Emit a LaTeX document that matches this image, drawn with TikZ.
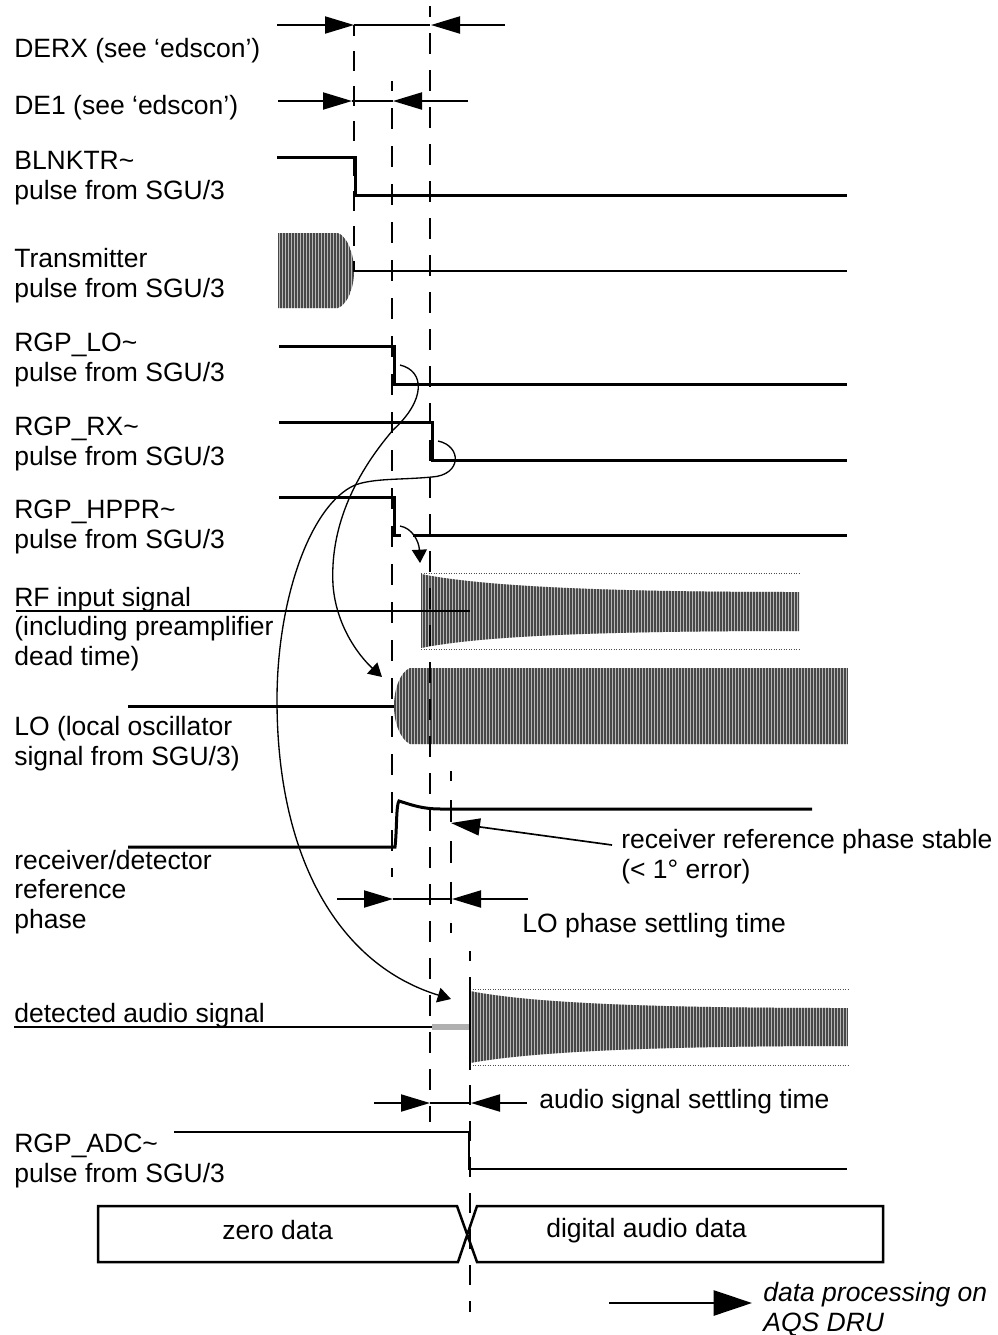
\documentclass[tikz,border=0pt]{standalone}
\usepackage{fontspec}
\setmainfont{Liberation Sans}
\usetikzlibrary{arrows.meta}
\definecolor{hatchdark}{HTML}{484848}
\definecolor{hatchlight}{HTML}{B8B8B8}
\definecolor{zerobar}{HTML}{B0B0B0}
\newcommand{\hatchblock}[4]{%
  \begin{scope}
    \clip #4;
    \fill[hatchlight] (#1,0) rectangle (#3,1335);
    \foreach \sx in {#1,#2,...,#3} \draw[hatchdark,line width=0.75pt] (\sx,0) -- (\sx,1335);
  \end{scope}}
\begin{document}
\begin{tikzpicture}[x=0.6pt,y=-0.6pt,
    lab/.style={anchor=base west,inner sep=0pt,font=\fontsize{15.9}{17.7}\selectfont,align=left},
    sigline/.style={line width=1.8pt,miter limit=10},
    thinline/.style={line width=1.3pt},
    dimline/.style={line width=1.2pt},
    dimarrow/.style={-{Triangle[length=17.4pt,width=10.2pt]},line width=1.2pt},
    bendarrow/.style={-{Triangle[length=8pt,width=9pt]},line width=0.8pt},
    guide/.style={line width=1.4pt},
    limit/.style={line width=0.5pt,densely dotted,black!70}]
  \useasboundingbox (0,0) rectangle (998,1335);
  % hatched blocks
  \hatchblock{278}{281}{356}{(278,233) -- (338,233) .. controls (348,237) and (354,255) .. (354,271) .. controls (354,287) and (348,304) .. (338,308) -- (278,308) -- cycle}
  \hatchblock{421}{424}{799}{(421,574) .. controls (480,586) and (600,592) .. (799,592) -- (799,631) .. controls (600,631) and (480,636) .. (421,648) -- cycle}
  \hatchblock{395}{398}{848}{(848,668) -- (410,668) .. controls (400,672) and (394,690) .. (394,706) .. controls (394,722) and (400,739) .. (410,744) -- (848,744) -- cycle}
  \hatchblock{470}{473}{848}{(470,991) .. controls (530,1003) and (650,1008) .. (848,1008) -- (848,1046) .. controls (650,1046) and (530,1052) .. (470,1063) -- cycle}
  \draw[limit] (421,573.5) -- (799,573.5);
  \draw[limit] (421,649) -- (799,649);
  \draw[limit] (470,989) -- (848,989);
  \draw[limit] (470,1065) -- (848,1065);
  % guide lines
  \draw[guide,dash pattern=on 12pt off 9pt,dash phase=5.4pt] (354,25) -- (354,272);
  \draw[guide,dash pattern=on 12.6pt off 10.2pt,dash phase=6.6pt] (392,81) -- (392,877);
  \draw[guide,dash pattern=on 12.6pt off 9.6pt,dash phase=6pt] (430,6) -- (430,1122);
  \draw[guide,dash pattern=on 13.2pt off 11.4pt,dash phase=7.2pt] (451,771) -- (451,933);
  \draw[guide,dash pattern=on 12pt off 9.6pt,dash phase=6pt] (470,951) -- (470,1312);
  % dimension arrows
  \draw[dimarrow] (277,25) -- (354,25);
  \draw[dimline] (354,25) -- (430,25);
  \draw[dimarrow] (505,25) -- (431,25);
  \draw[dimarrow] (278,101) -- (352,101);
  \draw[dimline] (352,101) -- (393,101);
  \draw[dimarrow] (468,101) -- (393,101);
  \draw[dimarrow] (337,899) -- (393,899);
  \draw[dimline] (393,899) -- (452,899);
  \draw[dimarrow] (528,899) -- (452,899);
  \draw[dimarrow] (374,1103) -- (430,1103);
  \draw[dimline] (430,1103) -- (471,1103);
  \draw[dimarrow] (527,1103) -- (471,1103);
  % signals
  \draw[sigline] (277,157) -- (355,157) -- (355,195) -- (847,195);
  \draw[thinline] (354,271) -- (847,271);
  \draw[sigline] (279,346) -- (394,346) -- (394,384) -- (847,384);
  \draw[sigline] (279,422) -- (432,422) -- (432,460) -- (847,460);
  \draw[sigline] (279,497) -- (394,497) -- (394,535) -- (401,535);
  \draw[sigline] (413,535) -- (847,535);
  \draw[thinline] (16,611) -- (470,611);
  \draw[sigline] (128,706) -- (394,706);
  \draw[sigline] (128,847) -- (395,847) .. controls (397,830) and (396,805) .. (399,801) .. controls (412,805) and (422,809) .. (441,809) -- (812,809);
  \draw[thinline] (14,1027) -- (432,1027);
  \draw[zerobar,line width=3.4pt] (432,1027) -- (470,1027);
  \draw[thinline] (470,977) -- (470,1070);
  \draw[sigline,line width=1.5pt] (174,1132) -- (469,1132) -- (469,1169) -- (847,1169);
  \draw[sigline,line width=1.5pt] (98,1206) -- (457,1206) -- (477,1262) -- (883,1262) -- (883,1206) -- (477,1206) -- (458,1262) -- (98,1262) -- cycle;
  % cause and effect curves
  \draw[bendarrow] (400,365) .. controls (425,371) and (426,400) .. (393,430) .. controls (352,478) and (330,530) .. (333,585) .. controls (336,625) and (358,655) .. (382,677);
  \draw[bendarrow] (438,441) .. controls (462,446) and (462,475) .. (432,477) .. controls (400,480) and (375,478) .. (355,485) .. controls (310,505) and (277,600) .. (277,700) .. controls (277,860) and (340,965) .. (451,999);
  \draw[bendarrow] (400,526) .. controls (412,528) and (419,541) .. (420,563);
  \coordinate (stablefoot) at (612,845);
  \coordinate (stabletip) at (451,823);
  \draw[dimarrow,line width=1pt] (stablefoot) -- (stabletip);
  \coordinate (dspstart) at (609,1303);
  \coordinate (dsptip) at (752,1303);
  \draw[-{Triangle[length=23pt,width=15pt]},line width=1.6pt] (dspstart) -- (dsptip);
  % labels
  \node[lab] (derx) at (14,57) {DERX (see ‘edscon’)};
  \node[lab] (deone) at (14,114) {DE1 (see ‘edscon’)};
  \node[lab] (blnktr) at (14,199) {BLNKTR\textasciitilde\\pulse from SGU/3};
  \node[lab] (tx) at (14,297) {Transmitter\\pulse from SGU/3};
  \node[lab] (rgplo) at (14,381) {RGP\_LO\textasciitilde\\pulse from SGU/3};
  \node[lab] (rgprx) at (14,465) {RGP\_RX\textasciitilde\\pulse from SGU/3};
  \node[lab] (rgphppr) at (14,548) {RGP\_HPPR\textasciitilde\\pulse from SGU/3};
  \node[lab] (rfin) at (14,665) {RF input signal\\(including preamplifier\\dead time)};
  \node[lab] (lo) at (14,765) {LO (local oscillator\\signal from SGU/3)};
  \node[lab] (rxref) at (14,928) {receiver/detector\\reference\\phase};
  \node[lab] (stable) at (621,878) {receiver reference phase stable\\(< 1° error)};
  \node[lab] (losettle) at (522,932) {LO phase settling time};
  \node[lab] (detected) at (14,1022) {detected audio signal};
  \node[lab] (audiosettle) at (539,1108) {audio signal settling time};
  \node[lab] (rgpadc) at (14,1182) {RGP\_ADC\textasciitilde\\pulse from SGU/3};
  \node[lab] (zero) at (222,1239) {zero data};
  \node[lab] (digital) at (546,1237) {digital audio data};
  \node[lab,font=\fontsize{15.9}{17.7}\selectfont\itshape] (dsp) at (763,1331) {data processing on\\AQS DRU};
\end{tikzpicture}
\end{document}
